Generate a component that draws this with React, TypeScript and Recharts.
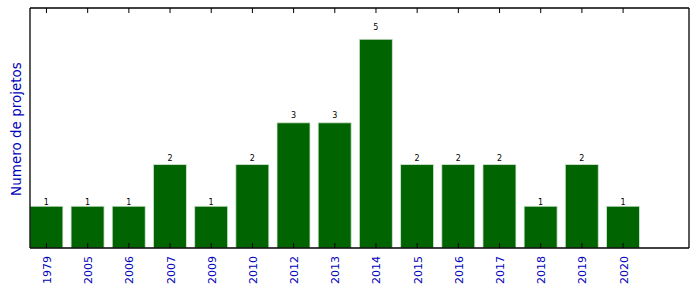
import React from 'react';
import { BarChart, Bar, XAxis, YAxis, LabelList, ReferenceLine } from 'recharts';

const years = ['1979', '2005', '2006', '2007', '2009', '2010', '2012', '2013', '2014', '2015', '2016', '2017', '2018', '2019', '2020'];
const projects = [1, 1, 1, 2, 1, 2, 3, 3, 5, 2, 2, 2, 1, 2, 1];

const X_MIN = -0.4;
const X_MAX = 15.6;
const Y_MAX = 5.75;
const TICK_LEN = 0.12;

const data = years.map((y, i) => ({ x: i, year: y, value: projects[i] }));
const tickIdx = years.map((_, i) => i);

const BLUE = '#0000b8';

const BottomTick = (props: any) => {
  const { x, y, payload } = props;
  return (
    <text
      x={0}
      y={0}
      transform={`translate(${x + 1},${y + 8}) rotate(-90)`}
      textAnchor="end"
      dominantBaseline="central"
      fill={BLUE}
      fontSize={11}
      fontFamily="DejaVu Sans"
    >
      {years[payload.value]}
    </text>
  );
};

const ValueLabel = (props: any) => {
  const { x, y, width, height, value } = props;
  const baseline = y - 0.05 * height + 1;
  return (
    <text
      x={x + width / 2}
      y={baseline}
      textAnchor="middle"
      fill="#000"
      fontSize={8}
      fontFamily="DejaVu Sans"
    >
      {value}
    </text>
  );
};

export default function App() {
  return (
    <div style={{ position: 'absolute', left: 0, top: 0, background: '#fff' }}>
      <BarChart
        width={699}
        height={292}
        data={data}
        margin={{ top: 8, right: 10, bottom: 0, left: 30 }}
      >
        <XAxis
          dataKey="x"
          type="number"
          domain={[X_MIN, X_MAX]}
          ticks={tickIdx}
          interval={0}
          height={44}
          tickSize={0}
          tickMargin={0}
          tick={<BottomTick />}
          axisLine={false}
          tickLine={false}
          allowDataOverflow
        />
        <YAxis
          type="number"
          domain={[0, Y_MAX]}
          width={0}
          hide
          allowDataOverflow
        />
        <Bar
          dataKey="value"
          fill="#006400"
          stroke="#d8e8d8"
          strokeWidth={0.8}
          barSize={33}
          isAnimationActive={false}
        >
          <LabelList dataKey="value" content={<ValueLabel />} />
        </Bar>
        {tickIdx.map((i) => (
          <ReferenceLine
            key={'b' + i}
            segment={[{ x: i, y: 0 }, { x: i, y: TICK_LEN }]}
            stroke="#000"
            strokeWidth={1}
            ifOverflow="visible"
          />
        ))}
        {tickIdx.map((i) => (
          <ReferenceLine
            key={'t' + i}
            segment={[{ x: i, y: Y_MAX - TICK_LEN }, { x: i, y: Y_MAX }]}
            stroke="#000"
            strokeWidth={1}
            ifOverflow="visible"
          />
        ))}
        <ReferenceLine y={0} stroke="#000" strokeWidth={1.3} ifOverflow="visible" />
        <ReferenceLine y={Y_MAX} stroke="#000" strokeWidth={1.3} ifOverflow="visible" />
        <ReferenceLine x={X_MIN} stroke="#000" strokeWidth={1.3} ifOverflow="visible" />
        <ReferenceLine x={X_MAX} stroke="#000" strokeWidth={1.3} ifOverflow="visible" />
      </BarChart>
      <div
        style={{
          position: 'absolute',
          left: 16,
          top: 129,
          transform: 'translate(-50%, -50%) rotate(-90deg)',
          color: BLUE,
          fontFamily: 'DejaVu Sans',
          fontSize: 13.5,
          whiteSpace: 'nowrap',
        }}
      >
        Numero de projetos
      </div>
    </div>
  );
}
